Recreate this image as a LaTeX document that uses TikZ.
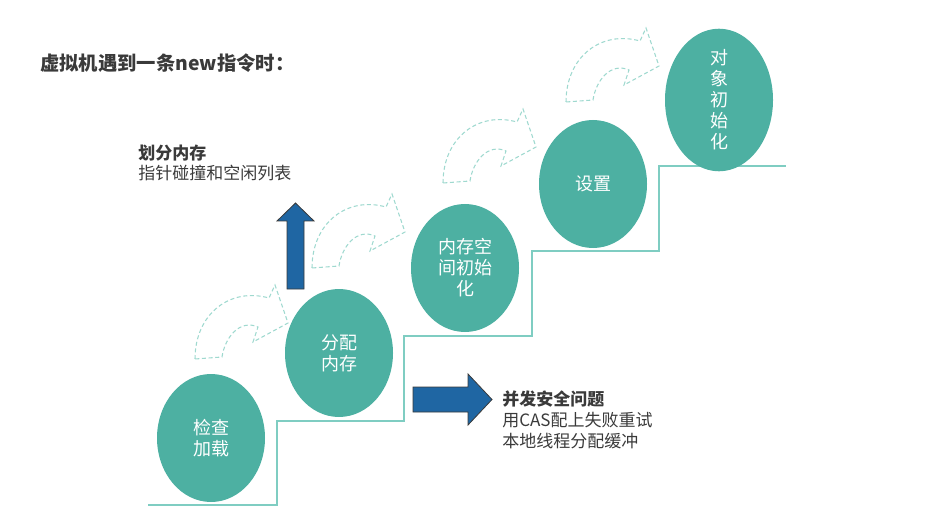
\documentclass[tikz,border=0pt]{standalone}
\usepackage{fontspec}
\setmainfont{Noto Sans CJK SC}
\usetikzlibrary{shapes.geometric}
\definecolor{tealfill}{HTML}{4DB0A2}
\definecolor{stairln}{HTML}{7FCDC2}
\definecolor{dashln}{HTML}{9FD9CF}
\definecolor{stblue}{HTML}{1F66A3}
\definecolor{dkgray}{HTML}{3A3A3A}

\begin{document}
\begin{tikzpicture}[
  x=0.75pt, y=-0.75pt,
  stepnode/.style={ellipse, fill=tealfill, minimum width=81pt, minimum height=96pt,
    inner sep=0pt, text=white, align=center, font=\fontsize{13.5}{15.8}\selectfont},
  sidelbl/.style={anchor=west, align=left, inner sep=0pt, text=dkgray},
  bluearrow/.style={fill=stblue, draw=dkgray, line width=0.6pt},
  bendarrow/.pic={
    \draw[dashln, line width=0.8pt, dash pattern=on 3pt off 2pt]
      (0,0) .. controls (0,-45) and (35,-72) .. (74,-61)
      -- (80,-74) -- (93,-36) -- (58,-17) -- (63,-32)
      .. controls (45,-40) and (30,-22) .. (27,-2) -- cycle;
  },
]

% Canvas
\useasboundingbox (0,0) rectangle (952,520);

% Title
\node[anchor=west, inner sep=0pt, text=dkgray, font=\fontsize{14.5}{16}\selectfont\bfseries]
  (title) at (40,63) {虚拟机遇到一条new指令时：};

% === Staircase ===
\draw[stairln, line width=1.5pt]
  (148,505) -- (277,505) -- (277,421) -- (404,421) -- (404,336)
  -- (532,336) -- (532,251) -- (659,251) -- (659,166) -- (786,166);

% === Dashed bent arrows ===
\pic at (195,359) {bendarrow};
\pic at (312,268) {bendarrow};
\pic at (443,183) {bendarrow};
\pic at (566,102) {bendarrow};

% === Steps ===
\node[stepnode] (check) at (211,438) {检查\\加载};
\node[stepnode] (alloc) at (339,353) {分配\\内存};
\node[stepnode] (zero) at (465,268) {内存空\\间初始\\化};
\node[stepnode] (setup) at (593,184) {设置};
\node[stepnode] (init) at (719,100) {对\\象\\初\\始\\化};

% === Up arrow: dividing memory ===
\draw[bluearrow] (287,289) -- (287,221) -- (277,221) -- (295.5,203)
  -- (314,221) -- (304,221) -- (304,289) -- cycle;
\node[sidelbl, font=\fontsize{12.75}{15}\selectfont] (divide) at (138,163)
  {\textbf{划分内存}\\指针碰撞和空闲列表};

% === Right arrow: concurrency ===
\draw[bluearrow] (413,387) -- (468,387) -- (468,374) -- (492,399.5)
  -- (468,425) -- (468,412) -- (413,412) -- cycle;
\node[sidelbl, font=\fontsize{12.75}{15.8}\selectfont] (safety) at (502,419.5)
  {\textbf{并发安全问题}\\用CAS配上失败重试\\本地线程分配缓冲};

\end{tikzpicture}
\end{document}
